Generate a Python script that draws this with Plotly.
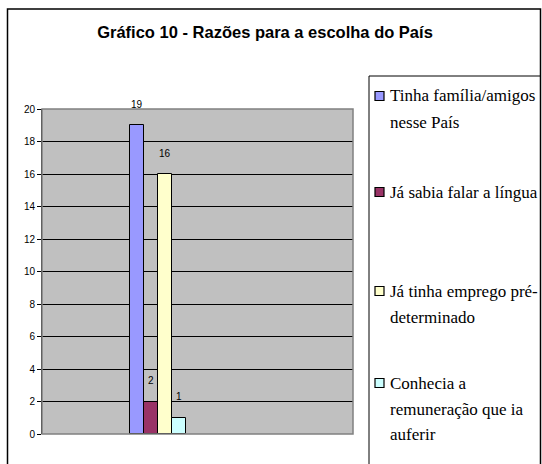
import plotly.graph_objects as go

# Data
categories = ["Razões"]
series_names = [
    "Tinha família/amigos<br>nesse País",
    "Já sabia falar a língua",
    "Já tinha emprego pré-<br>determinado",
    "Conhecia a<br>remuneração que ia<br>auferir",
]
series_values = [19, 2, 16, 1]
series_colors = ["#9999FF", "#993366", "#FFFFCC", "#CCFFFF"]
y_ticks = list(range(0, 21, 2))

W, H = 542, 464
L, R, T, B = 42, 353, 109, 434  # plot area in pixels
pw, ph = R - L, B - T
x_range = [-2.07, 3.48]

def px_x(v):
    return (v - L) / pw

def px_y(v):
    return (B - v) / ph

sans = "Liberation Sans"
serif = "Liberation Serif, DejaVu Serif, serif"

fig = go.Figure()
for name, val, col in zip(series_names, series_values, series_colors):
    fig.add_trace(go.Bar(
        x=categories, y=[val], name=name,
        marker=dict(color=col, line=dict(color="black", width=1)),
        showlegend=False, cliponaxis=False, hoverinfo="skip",
    ))

annotations = []
# value labels above bars
n = len(series_values)
bar_px = pw / (x_range[1] - x_range[0]) / n
for i, val in enumerate(series_values):
    annotations.append(dict(
        x=categories[0], y=val, xref="x", yref="y", text=str(val), showarrow=False,
        xshift=(i - (n - 1) / 2) * bar_px, yshift=21, yanchor="middle",
        font=dict(family=sans, size=10, color="black"),
    ))

# custom legend (symbols + text)
shapes = []
item_centers = [96, 192, 291, 383]
line_gap = 26
for cy, name, col in zip(item_centers, series_names, series_colors):
    shapes.append(dict(type="rect", xref="paper", yref="paper",
                       x0=px_x(375), x1=px_x(384), y0=px_y(cy + 4.5), y1=px_y(cy - 4.5),
                       fillcolor=col, line=dict(color="black", width=1.2), layer="above"))
    for k, line in enumerate(name.split("<br>")):
        annotations.append(dict(
            x=px_x(388), y=px_y(cy + k * line_gap), xref="paper", yref="paper",
            text=line, showarrow=False, xanchor="left", yanchor="middle",
            font=dict(family=serif, size=17, color="black"),
        ))

shapes += [
    # plot border
    dict(type="rect", xref="paper", yref="paper", x0=0, x1=1, y0=0, y1=1,
         line=dict(color="#808080", width=1.5), layer="above"),
    # outer frame
    dict(type="rect", xref="paper", yref="paper",
         x0=px_x(7.5), x1=px_x(540.5), y0=px_y(480), y1=px_y(9),
         line=dict(color="black", width=1.5), layer="above"),
    # legend frame
    dict(type="rect", xref="paper", yref="paper",
         x0=px_x(369), x1=px_x(540.5), y0=px_y(480), y1=px_y(76),
         line=dict(color="black", width=1), layer="above"),
]

fig.update_layout(
    width=W, height=H,
    margin=dict(l=L, r=W - R, t=T, b=H - B, autoexpand=False),
    paper_bgcolor="white", plot_bgcolor="#C0C0C0",
    barmode="group", bargap=0, bargroupgap=0,
    showlegend=False,
    title=dict(text="<b>Gráfico 10 - Razões para a escolha do País</b>",
               x=265 / W, xref="container", xanchor="center",
               y=1 - 32 / H, yref="container", yanchor="middle",
               font=dict(family=sans, size=16.5, color="black")),
    xaxis=dict(range=x_range, showticklabels=False, showgrid=False,
               zeroline=False, showline=False, ticks=""),
    yaxis=dict(range=[0, 20], tickvals=y_ticks, ticktext=[str(t) for t in y_ticks],
               showgrid=True, gridcolor="black", gridwidth=1, zeroline=False,
               showline=True, linecolor="black", linewidth=1,
               ticks="outside", ticklen=4, tickcolor="black",
               tickfont=dict(family=sans, size=10, color="black")),
    annotations=annotations,
    shapes=shapes,
)

fig.write_html("out.html", config={"displayModeBar": False},
               post_script="document.body.style.margin='0px';")
